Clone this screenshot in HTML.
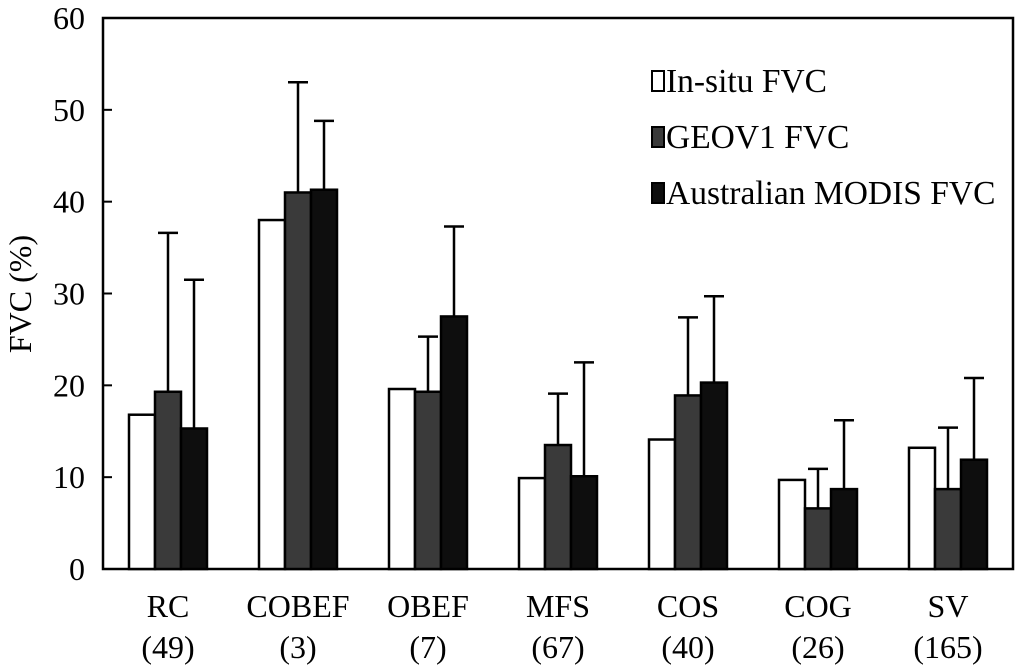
<!DOCTYPE html>
<html><head><meta charset="utf-8"><style>
body{margin:0;background:#fff}
svg text{font-family:"Liberation Serif",serif;fill:#000}
</style></head><body>
<svg id="c" width="1024" height="667"></svg>
<script>
const categories=["RC","COBEF","OBEF","MFS","COS","COG","SV"];
const counts=["(49)","(3)","(7)","(67)","(40)","(26)","(165)"];
const insitu=[16.8,38,19.6,9.9,14.1,9.7,13.2];
const geov1=[19.3,41,19.3,13.5,18.9,6.6,8.7];
const modis=[15.3,41.3,27.5,10.1,20.3,8.7,11.9];
const geov1Err=[36.6,53,25.3,19.1,27.4,10.9,15.4];
const modisErr=[31.5,48.8,37.3,22.5,29.7,16.2,20.8];
const yTicks=[0,10,20,30,40,50,60];
const NS="http://www.w3.org/2000/svg";
const svg=document.getElementById('c');
const L=103,R=1013,T=18,B=569;
const y=v=>B-(v/60)*(B-T);
const gw=(R-L)/categories.length;
function mk(t,a,p){const e=document.createElementNS(NS,t);for(const k in a)e.setAttribute(k,a[k]);(p||svg).appendChild(e);return e;}
const frame=mk('rect',{x:L,y:T,width:R-L,height:B-T,fill:'none',stroke:'#000','stroke-width':2.5});


yTicks.forEach(v=>{
 const tk=mk('line',{x1:L,x2:L+9,y1:y(v),y2:y(v),stroke:'#000','stroke-width':2});
 
 
 const t=mk('text',{x:L-18,y:y(v)+11,'text-anchor':'end','font-size':32});
 t.textContent=v;
 
 
});
const yl=mk('text',{transform:'translate(31,294) rotate(-90)','text-anchor':'middle','font-size':32});
yl.textContent='FVC (%)';


const series=[[insitu,'#fff',null,'insitu'],[geov1,'#3a3a3a',geov1Err,'geov1'],[modis,'#0e0e0e',modisErr,'modis']];
const bw=26;
categories.forEach((c,i)=>{
 const cx=L+gw*(i+0.5);
 series.forEach((s,j)=>{
  const x=cx-bw*1.5+j*bw;
  const v=s[0][i];
  if(s[2]){
   const e=s[2][i];
   const el=mk('path',{d:`M${x+bw/2},${y(v)}V${y(e)}M${x+bw/2-10},${y(e)}H${x+bw/2+10}`,stroke:'#000','stroke-width':2.5,fill:'none'});
   
   
  }
  const r=mk('rect',{x:x,y:y(v),width:bw,height:B-y(v),fill:s[1],stroke:'#000','stroke-width':2.5});
  
  
 });
 const t1=mk('text',{x:cx,y:617,'text-anchor':'middle','font-size':32});
 t1.textContent=c;
 
 
 const t2=mk('text',{x:cx,y:658,'text-anchor':'middle','font-size':32});
 t2.textContent=counts[i];
 
 
});
const legendLabels=["In-situ FVC","GEOV1 FVC","Australian MODIS FVC"];
const legendColors=['#fff','#3a3a3a','#0e0e0e'];
legendLabels.forEach((l,i)=>{
 const ly=81+i*56;
 const sw=mk('rect',{x:652,y:ly-10,width:12,height:20,fill:legendColors[i],stroke:'#000','stroke-width':2});
 
 
 const t=mk('text',{x:666,y:ly+11,'font-size':33.5});
 t.textContent=l;
 
 
});
</script>
</body></html>
